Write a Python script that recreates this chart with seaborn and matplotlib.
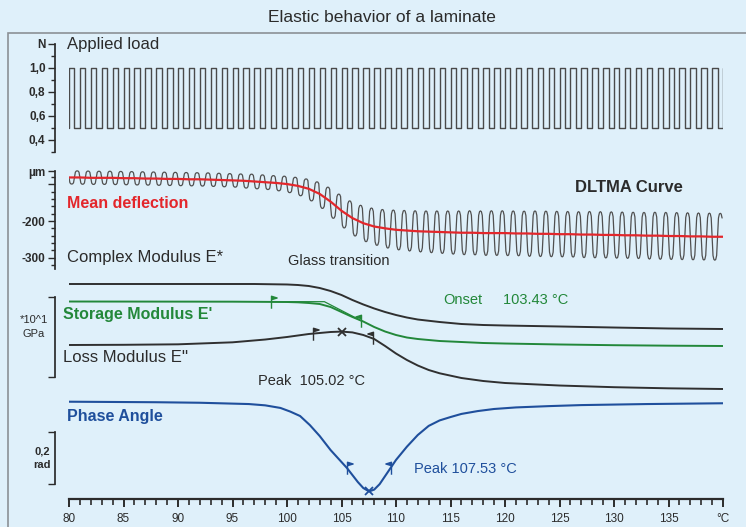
import matplotlib
matplotlib.use("Agg")
import matplotlib.pyplot as plt
import numpy as np
import pandas as pd
import seaborn as sns
from matplotlib.path import Path
from matplotlib.patches import Rectangle

# ---- data ----
# applied load: one square cycle per degree, 0.5 N <-> 1.0 N
load_cycle_start = np.arange(80, 140)
load_phase = [0.0, 0.0, 0.5, 0.5]
load_level = [0.5, 1.0, 1.0, 0.5]

# mean deflection (um), one value per degree 80..140
temp_deg = np.arange(80, 141)
mean_defl = np.array([
    -81, -81, -82, -82, -82, -83, -83, -84, -84, -85,
    -85, -86, -86, -87, -88, -89, -90, -92, -94, -96,
    -99, -104, -112, -126, -147, -172, -192, -206, -215, -220,
    -224, -226, -228, -229, -230, -231, -232, -232, -233, -233,
    -233, -234, -234, -235, -235, -236, -236, -237, -237, -238,
    -238, -239, -239, -240, -240, -241, -241, -242, -242, -243,
    -243])
# half peak-to-peak of the deflection oscillation (um), one per load cycle
defl_amp = np.array(
    [18] * 16 + [19] * 3 +
    [20, 21, 23, 26, 29, 33, 37, 42, 46, 49, 52, 54, 55, 56, 57, 58, 59,
     60, 60, 61, 61] +
    [61, 61, 62, 62, 62, 62, 62, 63, 63, 63, 63, 63, 63, 64, 64, 64, 64,
     64, 64, 64])
defl_phase = np.arange(12) / 12
defl_shape = [0.0, -0.8, -0.97, -1.0, -0.97, -0.8, 0.0, 0.8, 0.97, 1.0, 0.97, 0.8]

# moduli (*10^1 GPa, offset display scale)
e_star_t = [80, 97, 100, 101, 102, 103, 104, 105, 106, 107, 108, 109, 110, 111,
            112, 114, 116, 118, 120, 125, 130, 135, 140]
e_star = [1.45, 1.45, 1.444, 1.4375, 1.425, 1.40, 1.3625, 1.3125, 1.25, 1.194,
          1.144, 1.10, 1.0625, 1.031, 1.006, 0.975, 0.95, 0.9375, 0.931, 0.919,
          0.906, 0.894, 0.8875]
e_stor_t = [80, 95, 100, 101, 102, 103, 104, 105, 106, 107, 108, 109, 110, 111,
            112, 114, 116, 118, 120, 125, 130, 135, 140]
e_stor = [1.231, 1.229, 1.225, 1.221, 1.2125, 1.20, 1.1625, 1.10, 1.0375, 0.981,
          0.9125, 0.856, 0.8125, 0.781, 0.7625, 0.7375, 0.725, 0.7125, 0.706,
          0.694, 0.685, 0.679, 0.675]
e_loss_t = [80, 85, 90, 95, 98, 100, 102, 104, 105, 106, 107, 108, 109, 110, 111,
            112, 113, 114, 116, 118, 120, 125, 130, 135, 140]
e_loss = [0.6875, 0.69, 0.696, 0.721, 0.756, 0.7875, 0.825, 0.85, 0.855, 0.845,
          0.8125, 0.7625, 0.675, 0.581, 0.50, 0.431, 0.375, 0.334, 0.275,
          0.2375, 0.2125, 0.181, 0.16, 0.146, 0.1375]

# phase angle (rad)
phase_t = [80, 88, 92, 96.5, 98, 99.4, 100.3, 101.2, 102.1, 103, 104, 105, 105.5,
           106, 106.5, 107, 107.53, 108, 108.5, 109, 109.5, 110, 111, 112, 113,
           114, 115, 116, 117.5, 119, 121, 124, 127, 133, 140]
phase = [0.050, 0.052, 0.054, 0.059, 0.064, 0.074, 0.088, 0.105, 0.140, 0.182,
         0.236, 0.282, 0.305, 0.332, 0.359, 0.382, 0.395, 0.388, 0.367, 0.336,
         0.305, 0.274, 0.223, 0.178, 0.143, 0.122, 0.109, 0.097, 0.086, 0.078,
         0.072, 0.067, 0.063, 0.059, 0.056]

# evaluation results
onset_t = 103.43
onset_flags_t = [98.5, 106.8]
onset_flags_v = [1.229, 0.992]
loss_peak_t = 105.02
loss_peak_v = 0.855
loss_flags_t = [102.4, 107.9]
loss_flags_v = [0.825, 0.77]
phase_peak_t = 107.53
phase_peak_v = 0.395
phase_flags_t = [105.5, 109.5]
phase_flags_v = [0.305, 0.305]

# ---- build series ----
load_df = pd.DataFrame({
    "T": np.append((load_cycle_start[:, None] + np.array(load_phase)).ravel(), [140, 140]),
    "F": np.append(np.tile(load_level, len(load_cycle_start)), [0.5, 1.0]),
})
centre = (mean_defl[:-1] + mean_defl[1:]) / 2
defl_df = pd.DataFrame({
    "T": (load_cycle_start[:, None] + defl_phase).ravel(),
    "d": (centre[:, None] + defl_amp[:, None] * np.array(defl_shape)).ravel(),
})
mean_df = pd.DataFrame({"T": temp_deg, "d": mean_defl})

sns.set_theme(style="ticks")
plt.rcParams["font.family"] = ["Liberation Sans", "DejaVu Sans"]

BG = "#dff0fa"
INK = "#2b2b2b"
RED = "#e3262b"
GREEN = "#23883a"
BLUE = "#1f4f9c"
W, H = 746, 527

fig = plt.figure(figsize=(W / 100, H / 100), dpi=100, facecolor=BG)
fig.patches.append(Rectangle((8 / W, -0.02), 1.0, 1 - 33 / H + 0.02, transform=fig.transFigure,
                             fill=False, edgecolor="#8c9196", linewidth=1.2))


def panel(ytop, ybot):
    ax = fig.add_axes([69 / W, 1 - ybot / H, 654 / W, (ybot - ytop) / H])
    ax.set_facecolor("none")
    ax.set_xlim(80, 140)
    for s in ["top", "right", "bottom"]:
        ax.spines[s].set_visible(False)
    ax.spines["left"].set_position(("outward", 10))
    ax.spines["left"].set_color(INK)
    ax.tick_params(axis="x", bottom=False, labelbottom=False)
    ax.tick_params(axis="y", which="major", length=5, width=1, color=INK,
                   labelsize=8.5, labelcolor=INK, pad=2)
    ax.tick_params(axis="y", which="minor", length=3, width=1, color=INK)
    return ax


def flag(pennant_right):
    d = 0.9 if pennant_right else -0.9
    return Path([(0, -1), (0, 1), (d, 0.72), (0, 0.45)],
                [Path.MOVETO, Path.LINETO, Path.LINETO, Path.LINETO])


# applied load
ax1 = panel(40, 155)
sns.lineplot(data=load_df, x="T", y="F", ax=ax1, color="#4a4a4a", lw=1.0,
             estimator=None, sort=False)
ax1.set_ylim(0.275, 1.2333)
ax1.spines["left"].set_bounds(0.3, 1.2)
ax1.set_yticks([0.4, 0.6, 0.8, 1.0, 1.2])
ax1.set_yticklabels(["0,4", "0,6", "0,8", "1,0", "N"], fontweight="bold")
ax1.set_yticks([0.3, 0.5, 0.7, 0.9, 1.1], minor=True)
ax1.set_xlim(80, 140)

# DLTMA curve
ax2 = panel(160, 272)
sns.lineplot(data=defl_df, x="T", y="d", ax=ax2, color="#505050", lw=0.9,
             estimator=None, sort=False)
sns.lineplot(data=mean_df, x="T", y="d", ax=ax2, color=RED, lw=1.6,
             estimator=None, sort=False)
ax2.set_ylim(-339.3, -33.3)
ax2.spines["left"].set_bounds(-330, -64)
ax2.set_yticks([-300, -200, -100, -64])
ax2.set_yticklabels(["-300", "-200", "", "µm"], fontweight="bold")
ax2.set_yticks(np.arange(-320, -70, 20), minor=True)
ax2.set_xlim(80, 140)

# moduli
ax3 = panel(270, 395)
sns.lineplot(x=e_star_t, y=e_star, ax=ax3, color="#303030", lw=1.4)
sns.lineplot(x=e_stor_t, y=e_stor, ax=ax3, color=GREEN, lw=1.4)
sns.lineplot(x=e_loss_t, y=e_loss, ax=ax3, color="#303030", lw=1.4)
# onset construction on E'
ax3.plot([onset_flags_t[0], onset_t, onset_flags_t[1]],
         [onset_flags_v[0], onset_flags_v[0], onset_flags_v[1]], color=GREEN, lw=0.9)
ax3.plot(onset_flags_t[0], onset_flags_v[0], marker=flag(True), ms=9, color=GREEN, ls="none")
ax3.plot(onset_flags_t[1], onset_flags_v[1], marker=flag(False), ms=9, color=GREEN, ls="none")
ax3.plot(loss_flags_t[0], loss_flags_v[0], marker=flag(True), ms=9, color="#303030", ls="none")
ax3.plot(loss_flags_t[1], loss_flags_v[1], marker=flag(False), ms=9, color="#303030", ls="none")
ax3.plot(loss_peak_t, loss_peak_v, marker="x", ms=6, mew=1.3, color="#303030", ls="none")
ax3.set_ylim(0.0625, 1.625)
ax3.spines["left"].set_bounds(0.2875, 1.2875)
ax3.set_yticks([0.2875, 1.2875])
ax3.set_yticklabels([])
ax3.set_xlim(80, 140)

# phase angle
ax4 = panel(395, 499)
sns.lineplot(x=phase_t, y=phase, ax=ax4, color=BLUE, lw=1.5)
ax4.plot(phase_flags_t[0], phase_flags_v[0], marker=flag(True), ms=9, color=BLUE, ls="none")
ax4.plot(phase_flags_t[1], phase_flags_v[1], marker=flag(False), ms=9, color=BLUE, ls="none")
ax4.plot(phase_peak_t, phase_peak_v, marker="x", ms=6, mew=1.3, color=BLUE, ls="none")
ax4.set_ylim(0.4242, 0.0242)
ax4.spines["left"].set_bounds(0.1665, 0.3665)
ax4.set_yticks([0.1665, 0.3665])
ax4.set_yticklabels([])
ax4.spines["bottom"].set_visible(True)
ax4.spines["bottom"].set_color(INK)
ax4.spines["bottom"].set_linewidth(1.6)
ax4.set_xlim(80, 140)
ax4.set_xticks(np.arange(80, 141, 5))
ax4.set_xticklabels([str(t) for t in range(80, 140, 5)] + ["°C"])
ax4.set_xticks(np.arange(80, 141, 1), minor=True)
ax4.tick_params(axis="x", which="major", bottom=True, labelbottom=True, length=6, width=1.4,
                color=INK, labelsize=8.5, labelcolor=INK, pad=4)
ax4.tick_params(axis="x", which="minor", bottom=True, length=4, width=1.2, color=INK)

for ax in (ax1, ax2, ax3, ax4):
    ax.set_xlabel("")
    ax.set_ylabel("")


def put(x, y, s, **kw):
    kw.setdefault("color", INK)
    kw.setdefault("va", "center")
    fig.text(x / W, 1 - y / H, s, **kw)


put(382, 17, "Elastic behavior of a laminate", fontsize=12.5, ha="center")
put(67, 44, "Applied load", fontsize=12)
put(575, 187, "DLTMA Curve", fontsize=12, fontweight="bold")
put(67, 203, "Mean deflection", fontsize=11.5, fontweight="bold", color=RED)
put(67, 258, "Complex Modulus E*", fontsize=12)
put(288, 261, "Glass transition", fontsize=10.5)
put(443, 300, "Onset", fontsize=10.5, color=GREEN)
put(503, 300, "103.43 °C", fontsize=10.5, color=GREEN)
put(63, 314, "Storage Modulus E'", fontsize=11.5, fontweight="bold", color=GREEN)
put(63, 358, "Loss Modulus E''", fontsize=12)
put(258, 381, "Peak  105.02 °C", fontsize=10.5)
put(67, 417, "Phase Angle", fontsize=11.5, fontweight="bold", color=BLUE)
put(414, 469, "Peak 107.53 °C", fontsize=10.5, color=BLUE)
put(34, 327, "*10^1\nGPa", fontsize=8, ha="center", linespacing=1.5)
put(42, 458, "0,2\nrad", fontsize=8, ha="center", fontweight="bold", linespacing=1.5)

fig.savefig("out.png", dpi=100, facecolor=BG)
